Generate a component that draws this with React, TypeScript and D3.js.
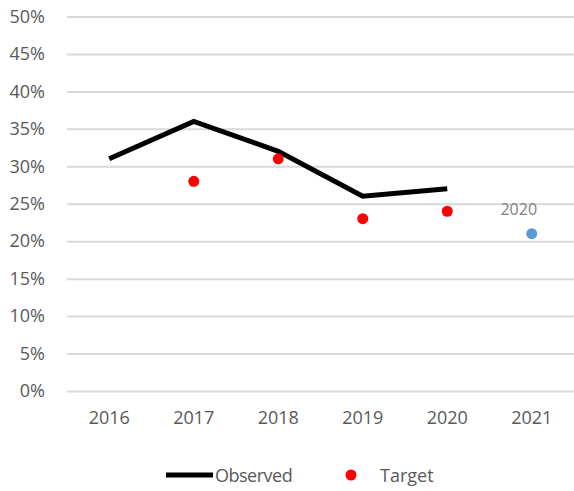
import React, { useEffect, useRef } from 'react';
import { select, scaleBand, scaleLinear, line, axisLeft, axisBottom } from 'd3';

const years = ['2016', '2017', '2018', '2019', '2020', '2021'];
const observed = [0.31, 0.36, 0.32, 0.26, 0.27];
const targetYears = ['2017', '2018', '2019', '2020'];
const target = [0.28, 0.31, 0.23, 0.24];
const extraYear = '2021';
const extraValue = 0.21;
const extraLabel = '2020';
const yTicks = [0, 0.05, 0.1, 0.15, 0.2, 0.25, 0.3, 0.35, 0.4, 0.45, 0.5];

const W = 574;
const H = 491;
const font = '"Open Sans", "Noto Sans", sans-serif';
const textColor = '#595959';

const App = () => {
  const svgRef = useRef<SVGSVGElement>(null);

  useEffect(() => {
    const svg = select(svgRef.current);
    svg.selectAll('*').remove();

    const xScale = scaleBand().domain(years).range([67, 574]).padding(0);
    const yScale = scaleLinear().domain([0, 0.5]).range([391, 16.5]);
    const cx = (d: string) => (xScale(d) as number) + xScale.bandwidth() / 2;

    // y axis with gridlines
    const yAxis = axisLeft(yScale)
      .tickValues(yTicks)
      .tickSize(-(574 - 67))
      .tickPadding(22)
      .tickFormat((d: any) => `${Math.round(d * 100)}%`);
    const gy = svg.append('g').attr('transform', 'translate(67,0)').call(yAxis);
    gy.select('.domain').remove();
    gy.selectAll('.tick line').attr('stroke', '#d9d9d9').attr('stroke-width', 2);
    gy.selectAll('.tick text')
      .attr('fill', textColor)
      .style('font-family', font)
      .style('font-size', '18px');

    // x axis labels
    const xAxis = axisBottom(xScale).tickSize(0).tickPadding(20);
    const gx = svg.append('g').attr('transform', 'translate(0,391)').call(xAxis);
    gx.select('.domain').remove();
    gx.selectAll('.tick text')
      .attr('fill', textColor)
      .style('font-family', font)
      .style('font-size', '18px');

    // observed line
    const lineGen = line<number>()
      .x((_, i) => cx(years[i]))
      .y(d => yScale(d));
    svg.append('path')
      .datum(observed)
      .attr('d', lineGen)
      .attr('fill', 'none')
      .attr('stroke', '#000')
      .attr('stroke-width', 5)
      .attr('stroke-linejoin', 'miter');

    // target points
    svg.append('g')
      .selectAll('circle')
      .data(target)
      .join('circle')
      .attr('cx', (_, i) => cx(targetYears[i]))
      .attr('cy', d => yScale(d))
      .attr('r', 5.5)
      .attr('fill', '#ff0000');

    // extra point
    svg.append('circle')
      .attr('cx', cx(extraYear))
      .attr('cy', yScale(extraValue))
      .attr('r', 5.5)
      .attr('fill', '#5b9bd5');
    svg.append('text')
      .attr('x', cx(extraYear) - 13)
      .attr('y', yScale(extraValue) - 19)
      .attr('text-anchor', 'middle')
      .attr('fill', '#7f7f7f')
      .style('font-family', font)
      .style('font-size', '16px')
      .text(extraLabel);

    // legend
    const lg = svg.append('g');
    lg.append('line')
      .attr('x1', 166).attr('x2', 213)
      .attr('y1', 475).attr('y2', 475)
      .attr('stroke', '#000').attr('stroke-width', 5);
    lg.append('text')
      .attr('x', 215).attr('y', 482)
      .attr('fill', textColor)
      .style('font-family', font)
      .style('font-size', '18px')
      .style('letter-spacing', '-0.5px')
      .text('Observed');
    lg.append('circle')
      .attr('cx', 351).attr('cy', 475).attr('r', 5.5).attr('fill', '#ff0000');
    lg.append('text')
      .attr('x', 380).attr('y', 482)
      .attr('fill', textColor)
      .style('font-family', font)
      .style('font-size', '18px')
      .text('Target');
  }, []);

  return (
    <svg
      ref={svgRef}
      width={W}
      height={H}
      style={{ position: 'absolute', left: 0, top: 0, background: '#fff' }}
    />
  );
};

export default App;
